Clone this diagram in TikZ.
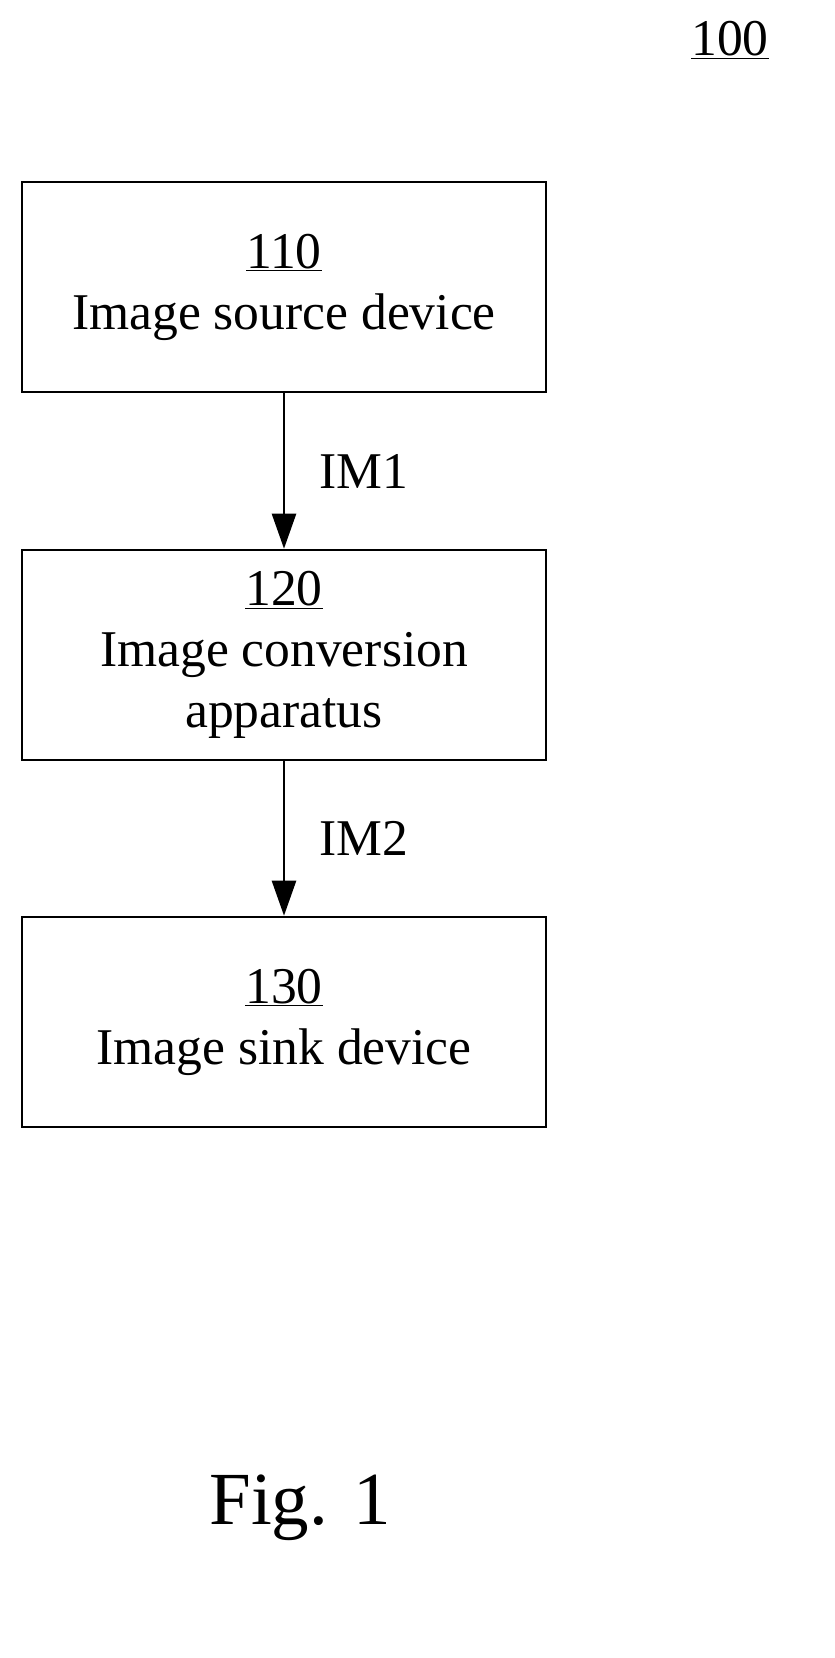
\documentclass[tikz,border=0pt]{standalone}
\usepackage{fontspec}
\setmainfont{Liberation Serif}
\usetikzlibrary{positioning,arrows.meta}
\tikzset{
  blockbox/.style={draw,line width=2.2pt,minimum width=15.72cm,minimum height=6.3cm,align=center,
    font=\fontsize{44}{52}\selectfont},
  sig/.style={-{Triangle[length=1.05cm,width=0.72cm]},line width=2.2pt},
}
\begin{document}
\begin{tikzpicture}[x=0.03cm,y=-0.03cm,font=\fontsize{44}{52}\selectfont]
    \useasboundingbox (0,0) rectangle (834,1658);
    \node (sys) at (730,40) {\underline{100}};
    \node[blockbox] (src) at (284,287) {\underline{110}\\Image source device};
    \node[blockbox] (conv) at (284,655) {\underline{120}\\Image conversion\\apparatus};
    \node[blockbox] (sink) at (284,1022) {\underline{130}\\Image sink device};
    %===========================================
    \draw[sig] (src) -- node[right=0.9cm] {IM1} (conv);
    \draw[sig] (conv) -- node[right=0.9cm] {IM2} (sink);
    \node[font=\fontsize{64}{72}\selectfont] (fig) at (300,1508) {Fig. 1};
\end{tikzpicture}
\end{document}
